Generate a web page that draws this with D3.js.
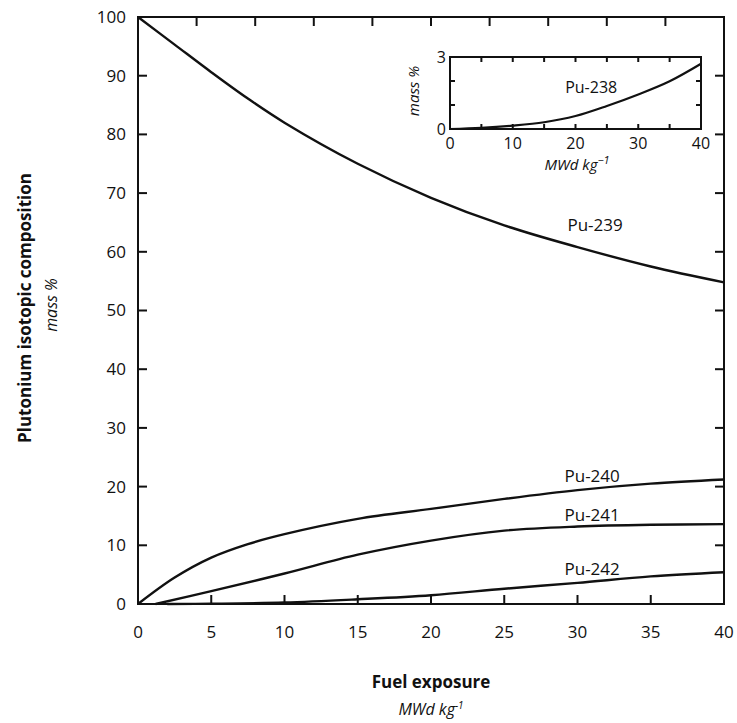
<!DOCTYPE html>
<html>
<head>
<meta charset="utf-8">
<script src="https://cdn.jsdelivr.net/npm/d3@7"></script>
<style>
  body { margin: 0; background: #fff; }
  text { font-family: "Open Sans", "Noto Sans", sans-serif; fill: #111; }
</style>
</head>
<body>
<div id="chart"></div>
<script>
// ---------------------------
// DATA
// ---------------------------
const pu239 = [[0, 100], [2.5, 95.3], [5, 90.6], [7.5, 86.1], [10, 82], [15, 75], [20, 69.2], [25, 64.5], [30, 60.8], [35, 57.5], [40, 54.8]];
const pu240 = [[0, 0], [2.5, 4.5], [5, 7.9], [7.5, 10.2], [10, 11.9], [15, 14.5], [20, 16.2], [25, 17.9], [30, 19.4], [35, 20.5], [40, 21.2]];
const pu241 = [[1.2, 0], [5, 2.2], [10, 5.2], [15, 8.4], [20, 10.8], [25, 12.5], [30, 13.2], [35, 13.5], [40, 13.6]];
const pu242 = [[2, 0], [5, 0.05], [10, 0.25], [15, 0.8], [20, 1.5], [25, 2.6], [30, 3.6], [35, 4.7], [40, 5.4]];
const pu238 = [[0, 0], [5, 0.05], [10, 0.14], [15, 0.28], [20, 0.54], [25, 0.96], [30, 1.44], [35, 1.99], [40, 2.72]];

const xTicks = [0, 5, 10, 15, 20, 25, 30, 35, 40];
const xTopTicks = [4, 8, 12, 16, 20, 24, 28, 32, 36];
const yTicks = [0, 10, 20, 30, 40, 50, 60, 70, 80, 90, 100];
const insetXLabels = [0, 10, 20, 30, 40];
const insetXTicks = [5, 10, 15, 20, 25, 30, 35];
const insetYTicks = [1, 2];
const insetYLabels = [0, 3];

const labels = [
  { name: "Pu-239", x: 31.2, y: 63.5 },
  { name: "Pu-240", x: 31.0, y: 20.8 },
  { name: "Pu-241", x: 31.0, y: 14.1 },
  { name: "Pu-242", x: 31.0, y: 5.0 }
];

// ---------------------------
// LAYOUT
// ---------------------------
const width = 737, height = 723;
const plot = { left: 138, right: 724, top: 17, bottom: 604 };
const inset = { left: 450, right: 701, top: 57, bottom: 129 };

const svg = d3.select("#chart").append("svg")
  .attr("width", width)
  .attr("height", height);

const x = d3.scaleLinear().domain([0, 40]).range([plot.left, plot.right]);
const y = d3.scaleLinear().domain([0, 100]).range([plot.bottom, plot.top]);

const line = d3.line()
  .x(d => x(d[0]))
  .y(d => y(d[1]))
  .curve(d3.curveCatmullRom.alpha(0.5));

// ---------------------------
// MAIN AXES (ticks point inward)
// ---------------------------
const tick = 9;
const axisG = svg.append("g").attr("stroke", "#111").attr("stroke-width", 2).attr("fill", "none");

axisG.append("rect")
  .attr("x", plot.left).attr("y", plot.top)
  .attr("width", plot.right - plot.left)
  .attr("height", plot.bottom - plot.top);

// left + right ticks
yTicks.slice(1, -1).forEach(v => {
  axisG.append("line").attr("x1", plot.left).attr("x2", plot.left + tick).attr("y1", y(v)).attr("y2", y(v));
  axisG.append("line").attr("x1", plot.right).attr("x2", plot.right - tick).attr("y1", y(v)).attr("y2", y(v));
});
// bottom ticks
xTicks.slice(1, -1).forEach(v => {
  axisG.append("line").attr("x1", x(v)).attr("x2", x(v)).attr("y1", plot.bottom).attr("y2", plot.bottom - tick);
});
// top ticks
xTopTicks.forEach(v => {
  axisG.append("line").attr("x1", x(v)).attr("x2", x(v)).attr("y1", plot.top).attr("y2", plot.top + tick);
});

// tick labels
svg.append("g").selectAll("text")
  .data(yTicks)
  .join("text")
  .attr("x", plot.left - 12)
  .attr("y", d => y(d))
  .attr("dy", "0.35em")
  .attr("text-anchor", "end")
  .style("font-size", "17px")
  .text(d => d);

svg.append("g").selectAll("text")
  .data(xTicks)
  .join("text")
  .attr("x", d => x(d))
  .attr("y", plot.bottom + 34)
  .attr("text-anchor", "middle")
  .style("font-size", "17px")
  .text(d => d);

// axis titles
svg.append("text")
  .attr("transform", `translate(31, 308) rotate(-90)`)
  .attr("text-anchor", "middle")
  .style("font-size", "17px")
  .style("font-weight", "bold")
  .text("Plutonium isotopic composition");

svg.append("text")
  .attr("transform", `translate(57, 305) rotate(-90)`)
  .attr("text-anchor", "middle")
  .style("font-size", "16px")
  .style("font-style", "italic")
  .text("mass %");

svg.append("text")
  .attr("x", 431).attr("y", 688)
  .attr("text-anchor", "middle")
  .style("font-size", "17px")
  .style("font-weight", "bold")
  .text("Fuel exposure");

const sub = svg.append("text")
  .attr("x", 431).attr("y", 715)
  .attr("text-anchor", "middle")
  .style("font-size", "16px")
  .style("font-style", "italic");
sub.append("tspan").text("MWd kg");
sub.append("tspan").attr("dy", -6).style("font-size", "10px").text("-1");

// ---------------------------
// CURVES
// ---------------------------
[pu239, pu240, pu241, pu242].forEach(s => {
  svg.append("path")
    .datum(s)
    .attr("d", line)
    .attr("fill", "none")
    .attr("stroke", "#111")
    .attr("stroke-width", 2.4);
});

svg.append("g").selectAll("text")
  .data(labels)
  .join("text")
  .attr("x", d => x(d.x))
  .attr("y", d => y(d.y))
  .attr("text-anchor", "middle")
  .style("font-size", "17px")
  .text(d => d.name);

// ---------------------------
// INSET (Pu-238)
// ---------------------------
const ix = d3.scaleLinear().domain([0, 40]).range([inset.left, inset.right]);
const iy = d3.scaleLinear().domain([0, 3]).range([inset.bottom, inset.top]);
const itick = 5;

const insetG = svg.append("g").attr("stroke", "#111").attr("stroke-width", 2).attr("fill", "none");
insetG.append("rect")
  .attr("x", inset.left).attr("y", inset.top)
  .attr("width", inset.right - inset.left)
  .attr("height", inset.bottom - inset.top);

insetYTicks.forEach(v => {
  insetG.append("line").attr("x1", inset.left).attr("x2", inset.left + itick).attr("y1", iy(v)).attr("y2", iy(v));
  insetG.append("line").attr("x1", inset.right).attr("x2", inset.right - itick).attr("y1", iy(v)).attr("y2", iy(v));
});
insetXTicks.forEach(v => {
  insetG.append("line").attr("x1", ix(v)).attr("x2", ix(v)).attr("y1", inset.bottom).attr("y2", inset.bottom - itick);
  insetG.append("line").attr("x1", ix(v)).attr("x2", ix(v)).attr("y1", inset.top).attr("y2", inset.top + itick);
});

svg.append("path")
  .datum(pu238)
  .attr("d", d3.line().x(d => ix(d[0])).y(d => iy(d[1])).curve(d3.curveCatmullRom.alpha(0.5)))
  .attr("fill", "none")
  .attr("stroke", "#111")
  .attr("stroke-width", 2.2);

svg.append("g").selectAll("text")
  .data(insetXLabels)
  .join("text")
  .attr("x", d => ix(d))
  .attr("y", inset.bottom + 20)
  .attr("text-anchor", "middle")
  .style("font-size", "16px")
  .text(d => d);

svg.append("g").selectAll("text")
  .data(insetYLabels)
  .join("text")
  .attr("x", inset.left - 4)
  .attr("y", d => iy(d))
  .attr("dy", "0.35em")
  .attr("text-anchor", "end")
  .style("font-size", "16px")
  .text(d => d);

svg.append("text")
  .attr("transform", `translate(419, 91) rotate(-90)`)
  .attr("text-anchor", "middle")
  .style("font-size", "15px")
  .style("font-style", "italic")
  .text("mass %");

const isub = svg.append("text")
  .attr("x", 577).attr("y", 170)
  .attr("text-anchor", "middle")
  .style("font-size", "15px")
  .style("font-style", "italic");
isub.append("tspan").text("MWd kg");
isub.append("tspan").attr("dy", -6).style("font-size", "11px").text("\u22121");

svg.append("text")
  .attr("x", ix(22.5)).attr("y", iy(1.5))
  .attr("text-anchor", "middle")
  .style("font-size", "16px")
  .text("Pu-238");
</script>
</body>
</html>
